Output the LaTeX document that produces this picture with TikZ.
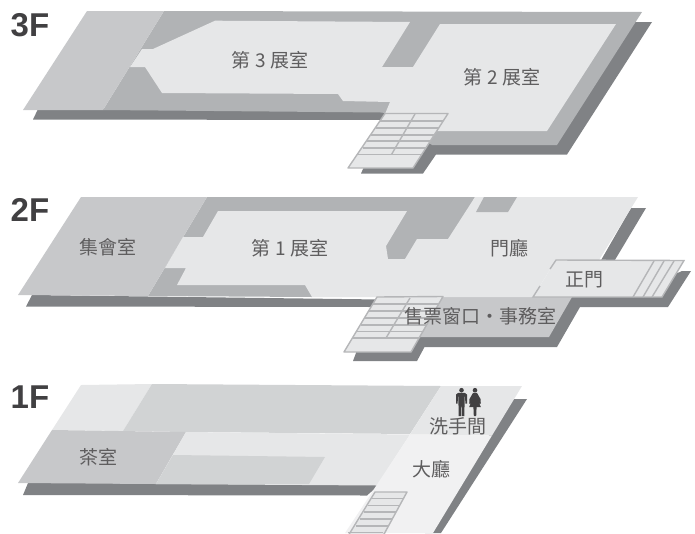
\documentclass[tikz,border=0pt]{standalone}
\usepackage{fontspec}
\setmainfont{Liberation Sans}
\newfontfamily\cjkfont{Noto Sans CJK TC}
\definecolor{flLight}{HTML}{E6E7E8}
\definecolor{flMid}{HTML}{B1B3B5}
\definecolor{flRoom}{HTML}{C7C8CA}
\definecolor{flPale}{HTML}{D1D3D4}
\definecolor{flHall}{HTML}{F1F1F2}
\definecolor{flDark}{HTML}{808285}
\definecolor{txtDark}{HTML}{414042}
\definecolor{stairLine}{HTML}{B5B6B8}
\tikzset{
  lightarea/.style={fill=flLight},
  midarea/.style={fill=flMid},
  roomarea/.style={fill=flRoom},
  palearea/.style={fill=flPale},
  hallarea/.style={fill=flHall},
  shadowarea/.style={fill=flDark},
  stairbox/.style={fill=flLight,draw=stairLine,line width=1.4pt,line join=round},
  stairline/.style={draw=stairLine,line width=1.4pt},
  label/.style={font=\cjkfont\fontsize{19}{20}\selectfont,text=txtDark!85,inner sep=0pt},
  floortag/.style={font=\bfseries\fontsize{33}{33}\selectfont,text=txtDark,inner sep=0pt,anchor=base west},
  icon/.style={fill=txtDark}
}
\begin{document}
\begin{tikzpicture}[x=1pt,y=-1pt]
\useasboundingbox (0,0) rectangle (695,533);
\clip (0,0) rectangle (695,533);
% ---------- 3F
\path[shadowarea] (38,109) -- (33,119.5) -- (385,120) -- (361,173.5) -- (423,173.5) -- (436,154.5) -- (567,154.5) -- (652,22) -- (630,22) -- (540,140) -- (380,110) -- cycle;
\path[midarea] (164,11) -- (642,12) -- (557,145) -- (432,145) -- (385,113) -- (381,112.5) -- (103,110) -- cycle;
\path[roomarea] (87,11) -- (164,11) -- (103,110) -- (23,110) -- cycle;
\path[lightarea] (215,20.7) -- (153,49) -- (142,49) -- (130,67) -- (145,67) -- (162,93) -- (338,94) -- (343,101) -- (390,102) -- (385,114) -- (420,140) -- (435,131) -- (547,131) -- (616,24) -- (440,24) -- (413,67) -- (382,67) -- (410,22) -- cycle;
\path[stairbox] (385,113.5) -- (448,113.5) -- (413,168) -- (348,168) -- cycle;
\foreach \yy/\xa/\xb in {121/380/443,128/375.5/438.5,135/371/434,141/367/430,148/362.5/425.5,154.5/358/421}
  \draw[stairline] (\xa,\yy) -- (\xb,\yy);
\draw[stairline] (415,114) -- (391.5,154.5);
% ---------- 2F
\path[shadowarea] (32,295) -- (26,306.5) -- (373,307) -- (353,361) -- (417,361) -- (424.5,347) -- (557,347) -- (580,307) -- (668,307) -- (691,271) -- (682,271) -- (640,290) -- (600,262) -- (631,208) -- (646,208) -- (600,285) -- (420,300) -- cycle;
\path[midarea] (207,197) -- (475,197) -- (440,260) -- (312,297) -- (148,296) -- cycle;
\path[roomarea] (81,197) -- (207,197) -- (148,296) -- (18,295) -- cycle;
\path[roomarea] (443,297) -- (572,297) -- (549,337) -- (420,337) -- cycle;
\path[lightarea] (475,197) -- (638,197) -- (599,260) -- (556,260) -- (533,297) -- (312,297) -- (305,285) -- (177,285) -- (186,268) -- (165,268) -- (183,237) -- (203,237) -- (218,211) -- (407,211) -- (386,246) -- (388,259) -- (405,259) -- (417,239) -- (448,239) -- cycle;
\path[midarea] (484,197) -- (517,197) -- (508,212) -- (476,212) -- cycle;
\path[lightarea] (556,260) -- (684,260.5) -- (662,297) -- (533,297) -- cycle;
\draw[stairline] (550,269) -- (556,260) -- (684,260.5) -- (662,297) -- (533,297) -- (540,286);
\draw[stairline] (654,261) -- (633,297);
\draw[stairline] (664,261) -- (643,297);
\draw[stairline] (674,261) -- (652,297);
\path[stairbox] (377,297) -- (443,296.5) -- (411,352) -- (344,352) -- cycle;
\foreach \yy/\xa/\xb in {304/373/439,311/369/435,318/364.5/431,325/360.5/426.5,331.5/356.5/422.5,338/352.5/419}
  \draw[stairline] (\xa,\yy) -- (\xb,\yy);
\draw[stairline] (410,298) -- (386,338);
% ---------- 1F
\path[shadowarea] (28,483) -- (23,495) -- (367,495.5) -- (380,484) -- cycle;
\path[shadowarea] (513,399) -- (527,399) -- (441,533) -- (425,533) -- cycle;
\path[lightarea] (81,385) -- (152,384) -- (123,431) -- (52,430) -- cycle;
\path[palearea] (152,384) -- (441,386) -- (410,434) -- (186,432) -- (123,431) -- cycle;
\path[roomarea] (52,430) -- (186,432) -- (156,484) -- (18,483) -- cycle;
\path[lightarea] (186,432) -- (410,434.5) -- (377,485.5) -- (156,484) -- cycle;
\path[palearea] (173,455) -- (325,457) -- (309,484) -- (156,484) -- cycle;
\path[lightarea] (441,386) -- (522,386) -- (492,435.5) -- (410,434.5) -- cycle;
\path[hallarea] (410,434.5) -- (492,435.5) -- (433,533) -- (345,533) -- cycle;
\path[stairbox] (375,492) -- (407,492) -- (383,536) -- (348,536) -- cycle;
\foreach \yy/\xa/\xb in {498.5/371.5/403.5,505.5/367.5/399.5,512/364/396,519/360/392,526/356/388}
  \draw[stairline] (\xa,\yy) -- (\xb,\yy);
\draw[stairline] (348,532.5) -- (383,532.5);
% restroom icons
\fill[icon] (461.5,390.2) circle (2.3);
\path[icon] (456,394.5) .. controls (456.2,393.3) and (457.2,392.9) .. (458.2,392.9) -- (464.8,392.9) .. controls (465.8,392.9) and (466.8,393.3) .. (467,394.5) -- (467,403.5) -- (465.4,403.5) -- (465,396.5) -- (464.6,396.5) -- (464.4,416) -- (461.9,416) -- (461.7,404) -- (461.3,404) -- (461.1,416) -- (458.6,416) -- (458.4,396.5) -- (458,396.5) -- (457.6,403.5) -- (456,403.5) -- cycle;
\fill[icon] (475,390.2) circle (2.3);
\path[icon] (473,392.9) -- (477,392.9) -- (480.5,399) -- (480.8,403.5) -- (479.4,403.5) -- (477.8,399.5) -- (480.8,407) -- (476.6,407) -- (476.2,416) -- (473.8,416) -- (473.4,407) -- (469.2,407) -- (472.2,399.5) -- (470.6,403.5) -- (469.2,403.5) -- (469.5,399) -- cycle;
% ---------- text
\node[floortag] (f3) at (10.5,36) {3F};
\node[floortag] (f2) at (10.5,221.5) {2F};
\node[floortag] (f1) at (10.5,408.5) {1F};
\node[label] (r3) at (270,60) {第 3 展室};
\node[label] (r2) at (502,77) {第 2 展室};
\node[label] (meet) at (108,247) {集會室};
\node[label] (r1) at (290,248) {第 1 展室};
\node[label] (lobby) at (509,248) {門廳};
\node[label] (gate) at (584,280) {正門};
\node[label] (ticket) at (480,316) {售票窗口・事務室};
\node[label] (tea) at (98,457) {茶室};
\node[label] (wc) at (458,426) {洗手間};
\node[label] (hall) at (431,469) {大廳};
\end{tikzpicture}
\end{document}
